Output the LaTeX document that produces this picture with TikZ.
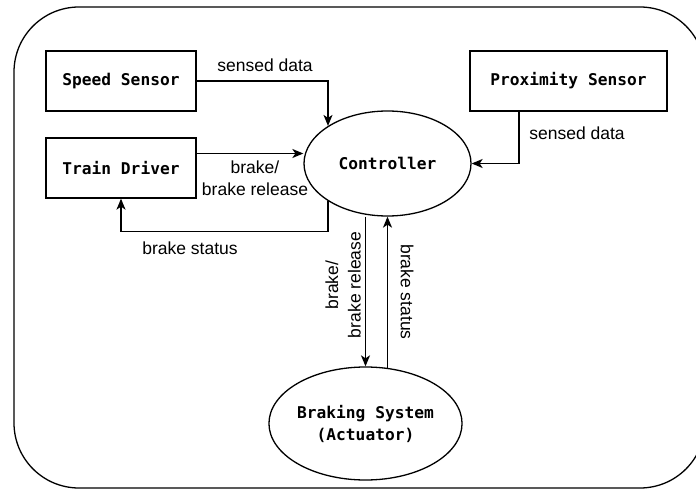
\documentclass[tikz,border=0pt]{standalone}
\usepackage{fontspec}
\setmainfont{Liberation Sans}
\setmonofont{DejaVu Sans Mono}
\usetikzlibrary{arrows.meta,shapes.geometric,calc}
\begin{document}
\begin{tikzpicture}[x=1pt,y=-1pt,
  line width=1.3pt,
  arr/.style={-{Stealth[length=11pt,width=9pt,inset=3pt]}},
  box/.style={draw,rectangle,minimum height=60pt,inner sep=0pt,align=center,
    font=\ttfamily\bfseries\fontsize{16.2}{22}\selectfont},
  oval/.style={draw,ellipse,inner sep=0pt,align=center,
    font=\ttfamily\bfseries\fontsize{16.2}{22}\selectfont},
  lbl/.style={inner sep=0pt,align=center,font=\fontsize{17.5}{22.5}\selectfont}]
\useasboundingbox (0,0) rectangle (696,489);
\draw[rounded corners=65pt] (14,7) rectangle (705,488);

\node[box,minimum width=150pt] (speed) at (121,81) {Speed Sensor};
\node[box,minimum width=150pt] (driver) at (121,168) {Train Driver};
\node[box,minimum width=197pt] (prox) at (568.5,81) {Proximity Sensor};
\node[oval,minimum width=167pt,minimum height=105pt] (ctrl) at (387.5,163.5) {Controller};
\node[oval,minimum width=183pt,minimum height=113pt] (brake) at (365.5,423.5) {Braking System\\(Actuator)};

\draw[arr] (speed.east) -| (ctrl.north west);
\draw[arr] ([yshift=14.5pt]driver.east) -- ([yshift=14.5pt]driver.east -| ctrl.west);
\draw[arr] (ctrl.south west) -- ++(0,30.4) -| (driver.south);
\draw[arr] ([xshift=-49.5pt]prox.south) |- (ctrl.east);
\draw[arr] (brake.north |- ctrl.south) -- (brake.north);
\draw[arr,shorten <=-2pt] (ctrl.south |- brake.north) -- (ctrl.south);

\node[lbl] (l1) at (265,65) {sensed data};
\node[lbl] (l2) at (255,178) {brake/\\brake release};
\node[lbl] (l3) at (190,248) {brake status};
\node[lbl] (l4) at (577,133) {sensed data};
\node[lbl,rotate=90] (l5) at (343,285) {brake/\\brake release};
\node[lbl,rotate=-90] (l6) at (407,292) {brake status};
\end{tikzpicture}
\end{document}
